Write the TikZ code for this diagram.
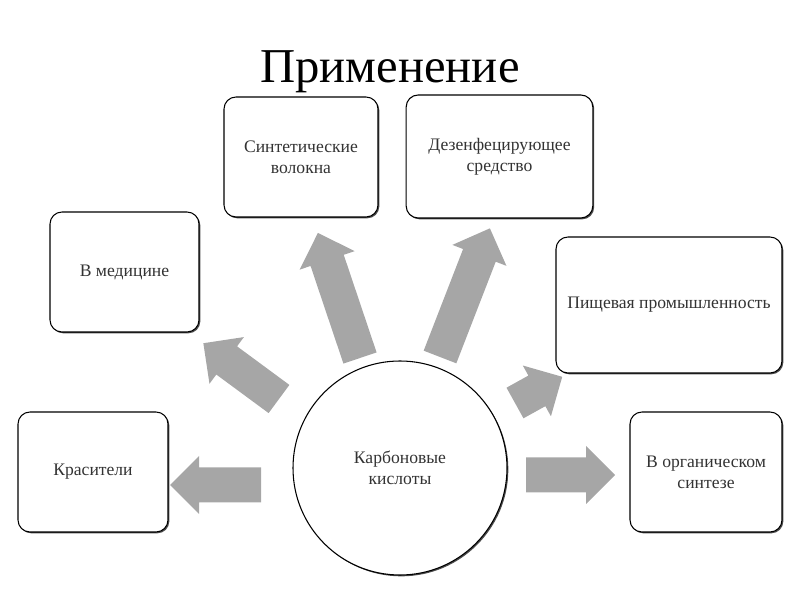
\documentclass[tikz,border=0pt]{standalone}
\usepackage{fontspec}
\setmainfont{Liberation Serif}
\usetikzlibrary{shadows}

\begin{document}
\begin{tikzpicture}[x=0.75pt, y=0.75pt,
  box/.style={draw, line width=0.8pt, rounded corners=9pt, fill=white, align=center,
    text=black!80, font=\fontsize{13.2}{15.5}\selectfont,
    drop shadow={shadow xshift=1pt, shadow yshift=-1pt, fill=black!70, opacity=1}},
  arrowfill/.style={fill=black!35}]
\useasboundingbox (0,0) rectangle (800,600);
\node (title) at (390,517)[anchor=base, font=\fontsize{36.5}{42}\selectfont] {Применение};
\node (acid) at (400,132)[circle, draw, line width=0.8pt, minimum size=160.5pt, fill=white, align=center,
  text=black!80, font=\fontsize{13.2}{15.5}\selectfont,
  drop shadow={shadow xshift=1pt, shadow yshift=-1pt, fill=black!70, opacity=1}] {Карбоновые\\кислоты};
\node (med) at (124.5,328)[box, minimum width=111.75pt, minimum height=90pt] {В медицине};
\node (dye) at (93,128)[box, minimum width=112.5pt, minimum height=90pt] {Красители};
\node (fiber) at (301,443)[box, minimum width=115.5pt, minimum height=90pt] {Синтетические\\волокна};
\node (disinf) at (499.5,443.5)[box, minimum width=140pt, minimum height=92.25pt] {Дезенфецирующее\\средство};
\node (food) at (669,295)[box, minimum width=169.5pt, minimum height=102pt] {Пищевая промышленность};
\node (org) at (706,128)[box, minimum width=114pt, minimum height=90pt] {В органическом\\синтезе};
% block arrows: tail x / tail y / angle / length
\foreach \x/\y/\a/\l in {261/115/180/91, 279/201/143.6/94, 360/242/108.6/132,
    440/243/68.8/138, 515/197/29/54, 526/125/0/89}
  \fill[arrowfill, shift={(\x,\y)}, rotate=\a] (0,-17.5) -- (\l-29,-17.5) -- (\l-29,-29)
    -- (\l,0) -- (\l-29,29) -- (\l-29,17.5) -- (0,17.5) -- cycle;
\end{tikzpicture}
\end{document}
